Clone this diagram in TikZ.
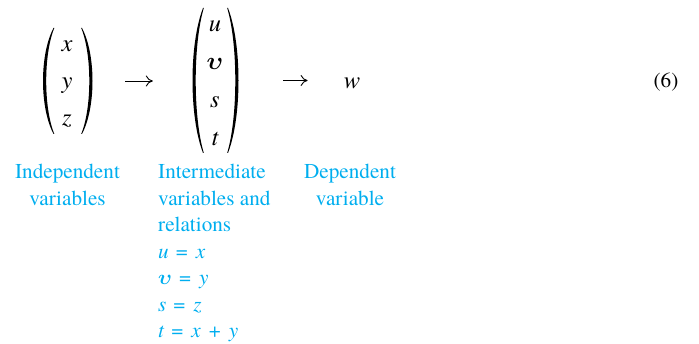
\documentclass[tikz,border=0pt]{standalone}
\usepackage{bm}
\usepackage{fontspec}
\setmainfont{texgyretermes}[Extension=.otf, UprightFont=*-regular, ItalicFont=*-italic, BoldFont=*-bold, BoldItalicFont=*-bolditalic]
\usetikzlibrary{fit,arrows.meta}
\definecolor{labelcyan}{RGB}{0,174,239}

\begin{document}
\begin{tikzpicture}[x=1pt, y=-1pt, every node/.style={font=\fontsize{21.2}{26.5}\selectfont, inner sep=0},
  var/.style={font=\fontsize{24.5}{30}\selectfont\itshape, anchor=base},
  lbl/.style={text=labelcyan, anchor=north},
  arr/.style={-{Computer Modern Rightarrow[length=7pt,width=11pt]}, line width=0.9pt},
  lpar/.pic={\fill (0,-0.5) .. controls (-14,-0.25) and (-14,0.25) .. (0,0.5) -- (0.8,0.5) .. controls (-10,0.25) and (-10,-0.25) .. (0.8,-0.5) -- cycle;},
  rpar/.pic={\fill (0,-0.5) .. controls (14,-0.25) and (14,0.25) .. (0,0.5) -- (-0.8,0.5) .. controls (10,0.25) and (10,-0.25) .. (-0.8,-0.5) -- cycle;}]
\useasboundingbox (0,0) rectangle (699,344);
\node[var] (x) at (67,52) {x};
\node[var] (y) at (67,89) {y};
\node[var] (z) at (67,126) {z};
\pic[yscale=106] at (53.5,81) {lpar};
\pic[yscale=106] at (82,81) {rpar};
\node[fit={(43,28) (93,134)}] (indep) {};
\node[var] (u) at (215,32) {u};
\node[var] (v) at (215,70) {$\bm{\upsilon}$};
\node[var] (s) at (215,108) {s};
\node[var] (t) at (215,146) {t};
\pic[yscale=145] at (203,80.5) {lpar};
\pic[yscale=145] at (228,80.5) {rpar};
\node[fit={(192,8) (239,153)}] (inter) {};
\node[var] (w) at (352,89) {w};
\node[anchor=base] (eqnum) at (666,88) {(6)};
\draw[arr, shorten <=32pt, shorten >=39pt] (indep.east) -- (indep.east -| inter.west);
\draw[arr, shorten <=44pt, shorten >=36pt] (inter.east) -- (inter.east -| w.west);
\node[lbl, align=center] (indeplbl) at (67.5,164) {Independent\\variables};
\node[lbl, anchor=north west, align=left] (interlbl) at (158,164) {Intermediate\\variables and\\relations\\
  \textit{u}\hspace{7pt}=\hspace{8pt}\textit{x}\\
  $\bm{\upsilon}$\hspace{7pt}=\hspace{8pt}\textit{y}\\
  \textit{s}\hspace{7pt}=\hspace{8pt}\textit{z}\\
  \textit{t}\hspace{7pt}=\hspace{8pt}\textit{x}\hspace{8pt}+\hspace{8pt}\textit{y}};
\node[lbl, align=center] (deplbl) at (350,164) {Dependent\\variable};
\end{tikzpicture}
\end{document}
